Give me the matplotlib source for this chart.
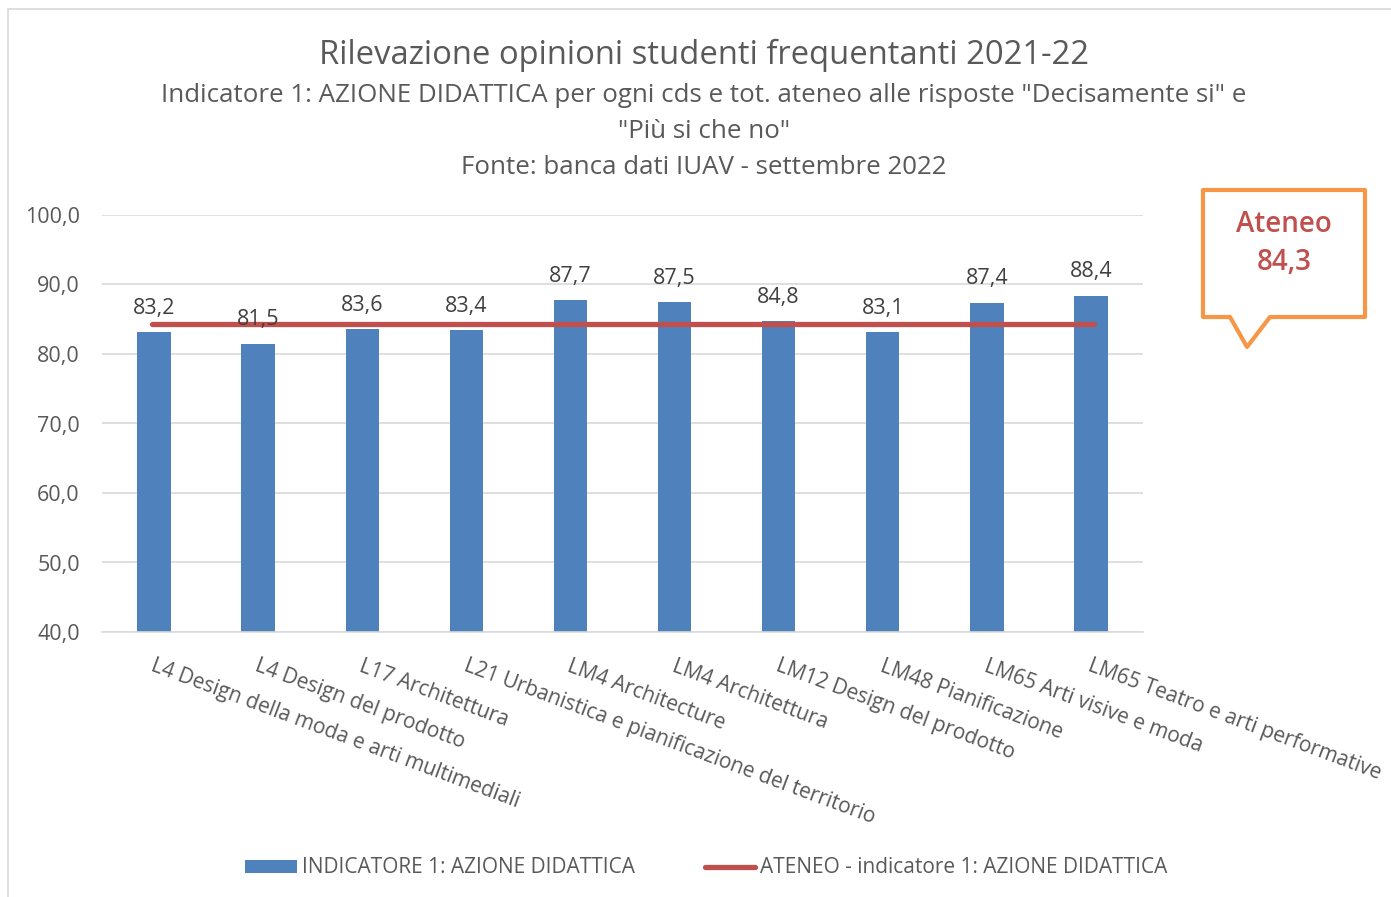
import matplotlib
matplotlib.use("Agg")
import matplotlib.pyplot as plt
from matplotlib.patches import Polygon, Rectangle
from matplotlib.lines import Line2D
import numpy as np

plt.rcParams['font.family'] = ['Open Sans', 'DejaVu Sans']

# data
categories = [
    "L4 Design della moda e arti multimediali",
    "L4 Design del prodotto",
    "L17 Architettura",
    "L21 Urbanistica e pianificazione del territorio",
    "LM4 Architecture",
    "LM4 Architettura",
    "LM12 Design del prodotto",
    "LM48 Pianificazione",
    "LM65 Arti visive e moda",
    "LM65 Teatro e arti performative",
]
indicatore = [83.2, 81.5, 83.6, 83.4, 87.7, 87.5, 84.8, 83.1, 87.4, 88.4]
ateneo = 84.3
yticks = [40, 50, 60, 70, 80, 90, 100]

W, H = 1391, 897
fig = plt.figure(figsize=(W / 100, H / 100), dpi=100)
gray = "#595959"
blue = "#4F81BD"
red = "#C0504D"
orange = "#F79646"

def fx(px):
    return px / W

def fy(py):
    return 1 - py / H

# chart frame
fig.patches.append(Rectangle((fx(8), fy(1000)), 1.2, fy(9) - fy(1000), transform=fig.transFigure,
                             fill=False, edgecolor="#D9D9D9", linewidth=1.2))

ax = fig.add_axes([fx(102), fy(632), fx(1143) - fx(102), fy(215) - fy(632)])
x = np.arange(len(categories))
ax.bar(x, indicatore, width=0.32, color=blue, zorder=2)
ax.plot([x[0] - 0.02, x[-1] + 0.03], [ateneo, ateneo], color=red, linewidth=3.8,
        solid_capstyle="round", zorder=3)

for xi, v in zip(x, indicatore):
    ax.text(xi, v + 3.4, f"{v:.1f}".replace(".", ","), ha="center", va="center",
            fontsize=15.5, color="#404040", zorder=4)

ax.set_xlim(-0.5, len(categories) - 0.5)
ax.set_ylim(40, 100)
ax.set_yticks(yticks)
ax.set_yticklabels([f"{t:.1f}".replace(".", ",") for t in yticks], fontsize=15.5, color=gray)
ax.yaxis.grid(True, color="#D9D9D9", linewidth=1.2, zorder=0)
ax.set_axisbelow(True)
ax.tick_params(axis="y", length=0, pad=16)
ax.tick_params(axis="x", length=0)
for s in ["top", "right", "left"]:
    ax.spines[s].set_visible(False)
ax.spines["bottom"].set_color("#D9D9D9")
ax.spines["bottom"].set_linewidth(1.2)

ax.set_xticks(x)
ax.set_xticklabels([])
for xi, lab in zip(x, categories):
    ax.text(xi - 0.02, 35.2, lab, rotation=-20.5, rotation_mode="anchor", ha="left", va="center",
            fontsize=15.1, color=gray, transform=ax.transData)

# titles
fig.text(fx(704), fy(55), "Rilevazione opinioni studenti frequentanti 2021-22",
         ha="center", va="center", fontsize=23.6, color=gray)
fig.text(fx(704), fy(95), 'Indicatore 1: AZIONE DIDATTICA per ogni cds e tot. ateneo alle risposte "Decisamente si" e',
         ha="center", va="center", fontsize=18.6, color=gray)
fig.text(fx(704), fy(131), '"Più si che no"', ha="center", va="center", fontsize=18.6, color=gray)
fig.text(fx(704), fy(167), "Fonte: banca dati IUAV - settembre 2022", ha="center", va="center",
         fontsize=18.6, color=gray)

# callout
pts = [(1203, 190), (1365, 190), (1365, 317), (1270, 317), (1247, 347), (1230, 317), (1203, 317)]
fig.patches.append(Polygon([(fx(a), fy(b)) for a, b in pts], closed=True, transform=fig.transFigure,
                           facecolor="white", edgecolor=orange, linewidth=3, joinstyle="round"))
fig.text(fx(1284), fy(224), "Ateneo", ha="center", va="center", fontsize=20, color=red,
         fontweight="semibold")
fig.text(fx(1284), fy(263), f"{ateneo:.1f}".replace(".", ","), ha="center", va="center",
         fontsize=20, color=red, fontweight="semibold")

# legend
fig.patches.append(Rectangle((fx(245), fy(873)), fx(297) - fx(245), fy(860) - fy(873),
                             transform=fig.transFigure, facecolor=blue, edgecolor="none"))
fig.text(fx(302), fy(867), "INDICATORE 1: AZIONE DIDATTICA", ha="left", va="center",
         fontsize=15, color=gray)
fig.lines.append(Line2D([fx(705), fx(755)], [fy(867), fy(867)], transform=fig.transFigure,
                        color=red, linewidth=3.8, solid_capstyle="round"))
fig.text(fx(760), fy(867), "ATENEO - indicatore 1: AZIONE DIDATTICA", ha="left", va="center",
         fontsize=15, color=gray)

fig.savefig("out.png", dpi=100, facecolor="white")
